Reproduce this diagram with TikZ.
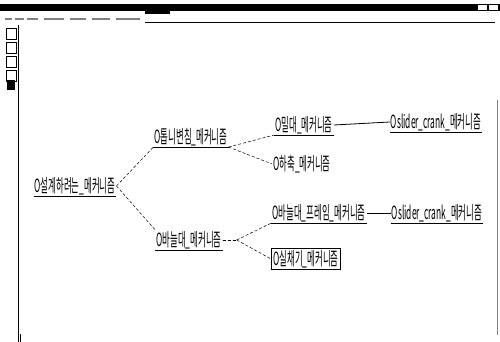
\documentclass[tikz,border=0pt]{standalone}
\usepackage{fontspec}
\usepackage{graphicx}
\newfontfamily\cjk{Noto Sans CJK KR}
\newcommand{\kt}[1]{\scalebox{0.6}[1.3]{\cjk #1}}
\tikzset{
  tn/.style={inner sep=1pt, font=\fontsize{14}{15}\selectfont},
  ul/.style={line width=0.7pt},
  conn/.style={line width=0.5pt, densely dashed},
  link/.style={line width=0.8pt}
}
\begin{document}
\begin{tikzpicture}[x=1pt,y=-1pt]
\useasboundingbox (0,0) rectangle (500,342);
% window frame
\fill (0,4) rectangle (500,11);
\fill (145,4) rectangle (170,14);
\fill[white] (478,5) rectangle (487,10);
\fill[white] (489,5) rectangle (498,10);
\foreach \a/\b in {5/12,15/24,27/38,44/64,70/86,92/110,116/140}{\fill[gray] (\a,18) rectangle (\b,20.5);}
\draw[line width=0.5pt] (145,22) -- (495,22);
\draw[line width=0.8pt] (18,25) -- (18,342);
\foreach \yy in {28,42,56,70}{\draw (6,\yy) rectangle (16,\yy+11);}
\fill (7,80) rectangle (15,90);
\draw[gray] (497,100) -- (497,335);
\draw (20,334) -- (20,342);
% nodes
\node[tn] (root) at (75,186) {\kt{O설계하려는\_메커니즘}};
\node[tn] (a1) at (191,137) {\kt{O톱니변침\_메커니즘}};
\node[tn] (a2) at (189,240) {\kt{O바늘대\_메커니즘}};
\node[tn] (b1) at (304,125) {\kt{O밀대\_메커니즘}};
\node[tn] (c1) at (436,122) {\kt{Oslider\_crank\_메커니즘}};
\node[tn] (b2) at (302,164) {\kt{O하축\_메커니즘}};
\node[tn] (b3) at (319,213) {\kt{O바늘대\_프레임\_메커니즘}};
\node[tn] (c2) at (437,213) {\kt{Oslider\_crank\_메커니즘}};
\node[tn, draw, line width=0.8pt, inner sep=2pt] (b4) at (306,259) {\kt{O실채기\_메커니즘}};
% underlines
\foreach \n in {root,a1,a2,b1,c1,b3,c2}{\draw[ul] (\n.south west) -- (\n.south east);}
% connectors
\draw[conn] (root.east) -- (a1.south west);
\draw[conn] (root.east) -- (a2.north west);
\draw[conn] (a1.south east) -- (b1.south west);
\draw[conn] (a1.south east) -- (b2.west);
\draw[conn] (a2.east) -- ([xshift=14pt]a2.east) coordinate (j2);
\draw[conn] (j2) -- (b3.south west);
\draw[conn] (j2) -- (b4.west);
\draw[link] (b1.east) -- (c1.west);
\draw[link] (b3.east) -- (c2.west);
\end{tikzpicture}
\end{document}
